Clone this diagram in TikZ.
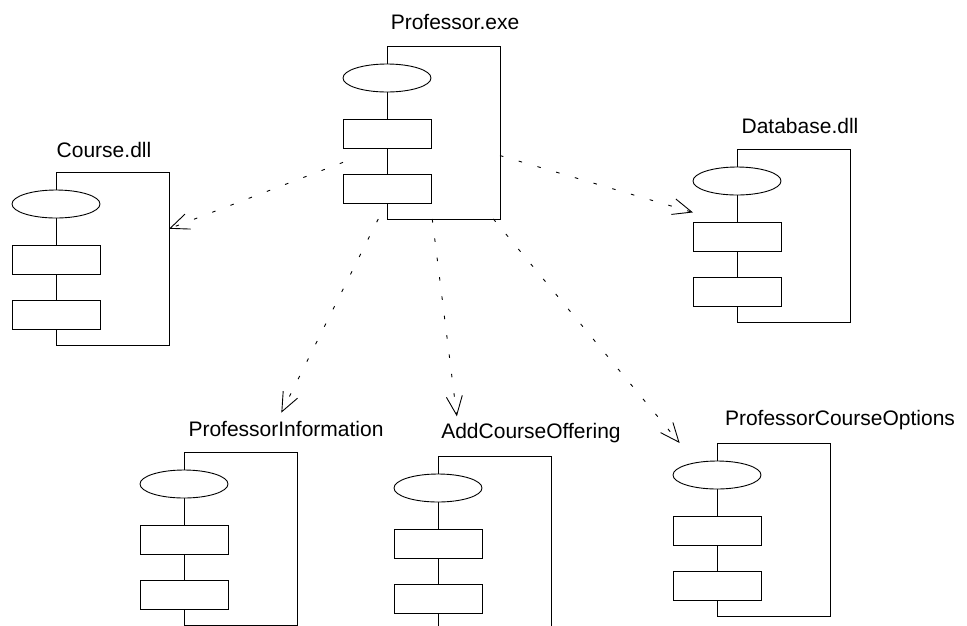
\documentclass[tikz,border=0pt]{standalone}
\usepackage{fontspec}
\setmainfont{Liberation Sans}
\usetikzlibrary{arrows.meta}

% un componente: nombre del nodo, y la esquina de arriba a la izquierda del cuerpo
\newcommand{\componente}[3]{%
  \node[caja] (#1) at (#2+34.5,#3+86.5) {};
  \draw (#2,#3) rectangle (#2+113,#3+173);
  \filldraw[fill=white] (#2,#3+32) ellipse [x radius=44pt, y radius=14pt];
  \foreach \y in {73,128} {
    \filldraw[fill=white] (#2-44,#3+\y) rectangle (#2+44,#3+\y+29);
  }
}

\begin{document}
\begin{tikzpicture}[x=1pt, y=-1pt, line width=0.9pt,
    caja/.style={rectangle, minimum width=157pt, minimum height=173pt, inner sep=0pt, outer sep=0pt},
    rotulo/.style={anchor=base, font=\fontsize{21}{25}\selectfont},
    dep/.style={dash pattern=on 3.5pt off 16pt, -{Straight Barb[length=19pt, width=16pt]}}]
  \useasboundingbox (0,0) rectangle (967,625);
  \clip (0,0) rectangle (967,625);
  % los componentes
  \componente{prof}{387}{46}
  \componente{course}{56}{172}
  \componente{database}{737}{149}
  \componente{profinfo}{184}{452}
  \componente{addoffering}{438}{456}
  \componente{courseoptions}{717}{443}
  % los nombres
  \node[rotulo] (l-prof) at (455,29) {Professor.exe};
  \node[rotulo] (l-course) at (104,157) {Course.dll};
  \node[rotulo] (l-database) at (800,133) {Database.dll};
  \node[rotulo] (l-profinfo) at (286,436) {ProfessorInformation};
  \node[rotulo] (l-addoffering) at (531,438) {AddCourseOffering};
  \node[rotulo] (l-courseoptions) at (840,425) {ProfessorCourseOptions};
  % las dependencias
  \draw[dep] (prof) -- (course);
  \draw[dep] (prof) -- (database);
  \draw[dep, shorten >=44pt] (prof) -- (profinfo);
  \draw[dep, shorten >=40pt] (prof) -- (addoffering);
  \draw[dep] (prof) -- (courseoptions);
\end{tikzpicture}
\end{document}
